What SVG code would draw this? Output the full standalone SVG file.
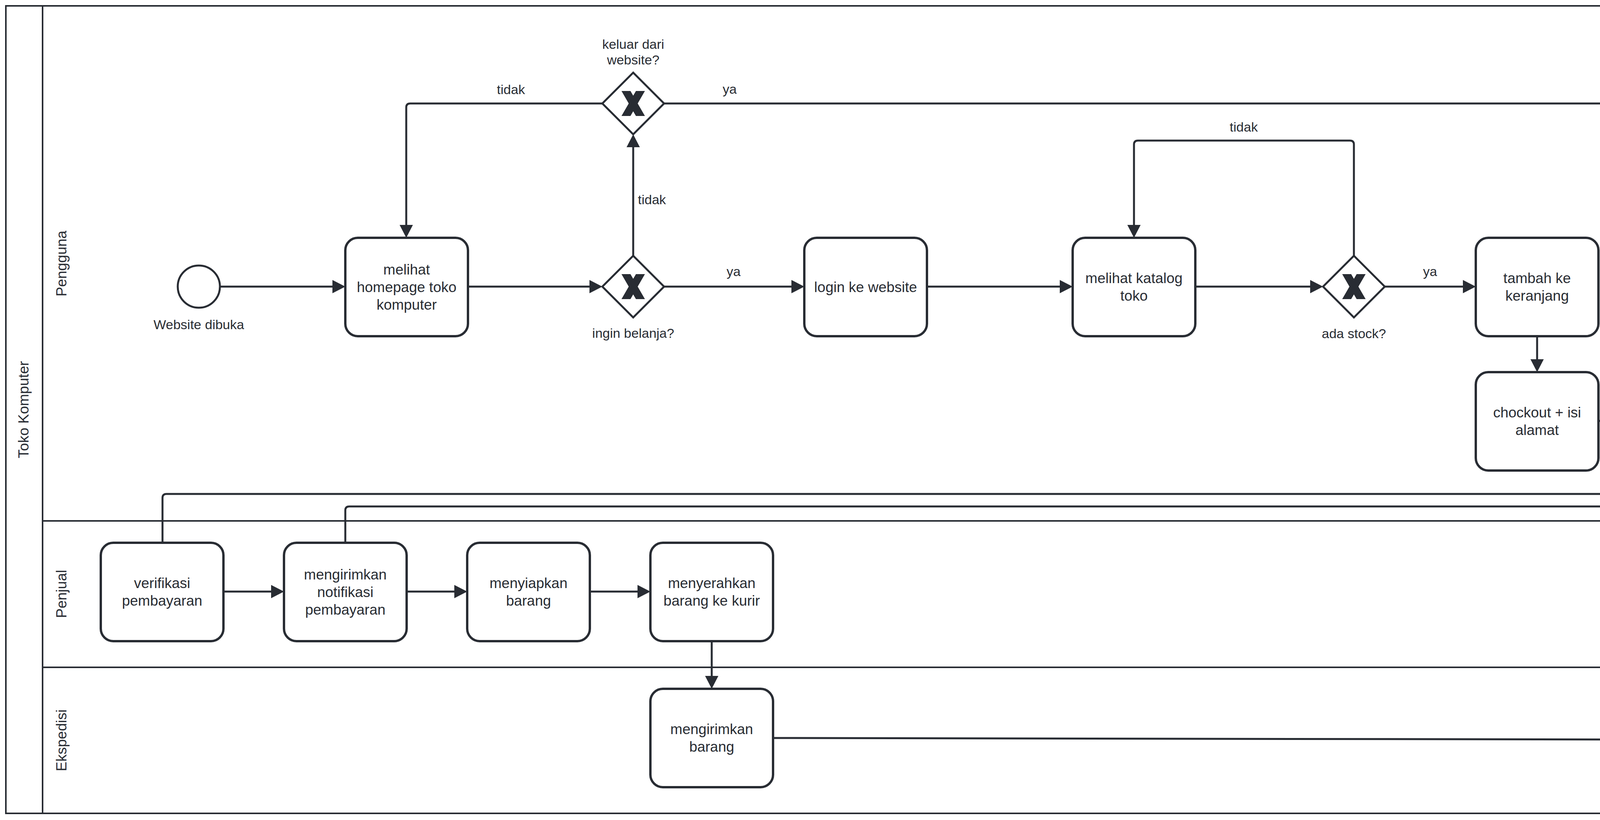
<svg xmlns="http://www.w3.org/2000/svg" width="6831" height="2100" viewBox="0 0 6831 2100">
<style>
.pool{fill:#ffffff;stroke:#282c33;stroke-width:4}
.lane{fill:none;stroke:#282c33;stroke-width:4}
.task{fill:#ffffff;stroke:#282c33;stroke-width:6}
.gw{fill:#ffffff;stroke:#282c33;stroke-width:5}
.xm{fill:#282c33}
.ev{fill:#ffffff;stroke:#282c33}
.conn{fill:none;stroke:#282c33;stroke-width:5;marker-end:url(#arrow)}
text{font-family:"Liberation Sans",Arial,sans-serif;fill:#282c33}
.t{font-size:37px;text-anchor:middle}
.lbl{font-size:34px;text-anchor:middle}
.lbls{font-size:34px;text-anchor:start}
.hdr{font-size:37px;text-anchor:middle}
</style>
<defs>
<marker id="arrow" markerUnits="userSpaceOnUse" markerWidth="34" markerHeight="34" refX="23" refY="17" orient="auto">
<path d="M0,0 L33,17 L0,34 z" fill="#282c33"/>
</marker>
<polygon id="xmark" points="-30,-32 -7,-32 0,-19.9 7,-32 30,-32 11.5,0 30,32 7,32 0,19.9 -7,32 -30,32 -11.5,0"/>
</defs>
<rect width="6831" height="2100" fill="#ffffff"/>

<g id="pool">
<rect class="pool" x="15" y="15" width="6800" height="2068"/>
<line class="lane" x1="109" y1="15" x2="109" y2="2083"/>
<text class="hdr" transform="translate(73,1049) rotate(-90)">Toko Komputer</text>
</g>
<g id="lane-pengguna">
<text class="hdr" transform="translate(170,675) rotate(-90)">Pengguna</text>
</g>
<g id="lane-penjual">
<line class="lane" x1="109" y1="1334" x2="6815" y2="1334"/>
<text class="hdr" transform="translate(170,1521) rotate(-90)">Penjual</text>
</g>
<g id="lane-ekspedisi">
<line class="lane" x1="109" y1="1709" x2="6815" y2="1709"/>
<text class="hdr" transform="translate(170,1896) rotate(-90)">Ekspedisi</text>
</g>

<g id="connectors">
<path class="conn" d="M563,734 L874,734"/>
<path class="conn" d="M1198,734 L1532,734"/>
<path class="conn" d="M1621,655 L1621,354"/>
<path class="conn" d="M1542,265 L1050,265 Q1040,265 1040,275 L1040,599"/>
<path class="conn" d="M1700,265 L6436,265 Q6446,265 6446,275 L6446,1008"/>
<path class="conn" d="M1700,734 L2049,734"/>
<path class="conn" d="M2373,734 L2736,734"/>
<path class="conn" d="M3060,734 L3377,734"/>
<path class="conn" d="M3466,655 L3466,370 Q3466,360 3456,360 L2913,360 Q2903,360 2903,370 L2903,599"/>
<path class="conn" d="M3545,734 L3768,734"/>
<path class="conn" d="M3935,861 L3935,943"/>
<path class="conn" d="M4092,1078 L4235,1078"/>
<path class="conn" d="M4559,1078 L4706,1078"/>
<path class="conn" d="M6041,1078 L6376,1078"/>
<path class="conn" d="M416,1390 L416,1275 Q416,1265 426,1265 L4392,1265 Q4402,1265 4402,1255 L4402,1215"/>
<path class="conn" d="M884,1390 L884,1307 Q884,1297 894,1297 L4863,1297 Q4873,1297 4873,1287 L4873,1215"/>
<path class="conn" d="M572,1515 L717,1515"/>
<path class="conn" d="M1041,1515 L1186,1515"/>
<path class="conn" d="M1510,1515 L1655,1515"/>
<path class="conn" d="M1822,1642 L1822,1754"/>
<path class="conn" d="M1979,1890 L5874,1897 Q5884,1897 5884,1887 L5884,1215"/>
<text class="lbls" x="1633" y="523">tidak</text>
<text class="lbl" x="1308" y="241">tidak</text>
<text class="lbls" x="1850" y="240">ya</text>
<text class="lbls" x="1860" y="707">ya</text>
<text class="lbl" x="3184" y="337">tidak</text>
<text class="lbls" x="3643" y="707">ya</text>
</g>

<g id="start">
<circle class="ev" cx="509" cy="734" r="54" stroke-width="5"/>
<text class="lbl" x="509" y="843">Website dibuka</text>
</g>
<g id="end">
<circle class="ev" cx="6446" cy="1078" r="54" stroke-width="12"/>
<text class="lbl" x="6449" y="1187">Website ditutup</text>
</g>

<g id="gw-ingin-belanja">
<polygon class="gw" points="1621,655 1700,734 1621,813 1542,734"/>
<use href="#xmark" class="xm" x="1621" y="734"/>
<text class="lbl" x="1621" y="865">ingin belanja?</text>
</g>
<g id="gw-keluar">
<polygon class="gw" points="1621,186 1700,265 1621,344 1542,265"/>
<use href="#xmark" class="xm" x="1621" y="265"/>
<text class="lbl" x="1621" y="125">keluar dari</text>
<text class="lbl" x="1621" y="165">website?</text>
</g>
<g id="gw-ada-stock">
<polygon class="gw" points="3466,655 3545,734 3466,813 3387,734"/>
<use href="#xmark" class="xm" x="3466" y="734"/>
<text class="lbl" x="3466" y="866">ada stock?</text>
</g>

<g id="task-homepage">
<rect class="task" x="884" y="609" width="314" height="252" rx="32"/>
<text class="t" x="1041" y="703">melihat</text>
<text class="t" x="1041" y="748">homepage toko</text>
<text class="t" x="1041" y="793">komputer</text>
</g>
<g id="task-login">
<rect class="task" x="2059" y="609" width="314" height="252" rx="32"/>
<text class="t" x="2216" y="748">login ke website</text>
</g>
<g id="task-katalog">
<rect class="task" x="2746" y="609" width="314" height="252" rx="32"/>
<text class="t" x="2903" y="725">melihat katalog</text>
<text class="t" x="2903" y="770">toko</text>
</g>
<g id="task-keranjang">
<rect class="task" x="3778" y="609" width="314" height="252" rx="32"/>
<text class="t" x="3935" y="725">tambah ke</text>
<text class="t" x="3935" y="770">keranjang</text>
</g>
<g id="task-checkout">
<rect class="task" x="3778" y="953" width="314" height="252" rx="32"/>
<text class="t" x="3935" y="1069">chockout + isi</text>
<text class="t" x="3935" y="1114">alamat</text>
</g>
<g id="task-bayar">
<rect class="task" x="4245" y="953" width="314" height="252" rx="32"/>
<text class="t" x="4402" y="1069">melakukan</text>
<text class="t" x="4402" y="1114">pembayaran</text>
</g>
<g id="task-terima-notif">
<rect class="task" x="4716" y="953" width="314" height="252" rx="32"/>
<text class="t" x="4873" y="1047">menerima</text>
<text class="t" x="4873" y="1092">notifikasi</text>
<text class="t" x="4873" y="1137">pembayaran</text>
</g>
<g id="task-diterima">
<rect class="task" x="5727" y="953" width="314" height="252" rx="32"/>
<text class="t" x="5884" y="1092">barang diterima</text>
</g>
<g id="task-verifikasi">
<rect class="task" x="258" y="1390" width="314" height="252" rx="32"/>
<text class="t" x="415" y="1506">verifikasi</text>
<text class="t" x="415" y="1551">pembayaran</text>
</g>
<g id="task-kirim-notif">
<rect class="task" x="727" y="1390" width="314" height="252" rx="32"/>
<text class="t" x="884" y="1484">mengirimkan</text>
<text class="t" x="884" y="1529">notifikasi</text>
<text class="t" x="884" y="1574">pembayaran</text>
</g>
<g id="task-siapkan">
<rect class="task" x="1196" y="1390" width="314" height="252" rx="32"/>
<text class="t" x="1353" y="1506">menyiapkan</text>
<text class="t" x="1353" y="1551">barang</text>
</g>
<g id="task-serahkan">
<rect class="task" x="1665" y="1390" width="314" height="252" rx="32"/>
<text class="t" x="1822" y="1506">menyerahkan</text>
<text class="t" x="1822" y="1551">barang ke kurir</text>
</g>
<g id="task-kirim-barang">
<rect class="task" x="1665" y="1764" width="314" height="252" rx="32"/>
<text class="t" x="1822" y="1880">mengirimkan</text>
<text class="t" x="1822" y="1925">barang</text>
</g>
</svg>
